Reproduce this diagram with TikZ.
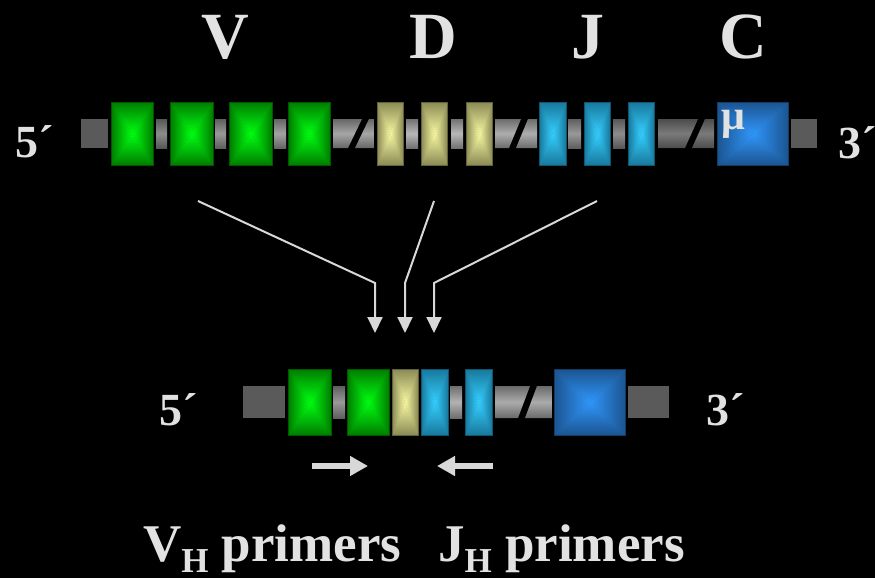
\documentclass[tikz,border=0pt]{standalone}
\usepackage{fontspec}
\setmainfont{Liberation Serif}
\usetikzlibrary{arrows.meta}

\definecolor{txt}{HTML}{E2E2E2}
\definecolor{linkgray}{HTML}{D8D8D8}
\definecolor{endgray}{HTML}{5A5A5A}
\definecolor{vEdge}{HTML}{007C00}
\definecolor{vMid}{HTML}{00FF10}
\definecolor{dEdge}{HTML}{8A8A55}
\definecolor{dMid}{HTML}{F8F8A2}
\definecolor{jEdge}{HTML}{18789C}
\definecolor{jMid}{HTML}{35CFFF}
\definecolor{cEdge}{HTML}{1B5490}
\definecolor{cMid}{HTML}{3096FA}

% placeholder node covering a rectangle given by pixel corners
\newcommand{\segnode}[5]{%
  \node[inner sep=0pt, outer sep=0pt,
        minimum width={(#4-#2)*1pt}, minimum height={(#5-#3)*1pt}]
        (#1) at ({(#2+#4)/2},{(#3+#5)/2}) {};}

% bevelled gene segment: name, x1, y1, x2, y2, edge colour, centre colour
\newcommand{\exon}[7]{%
  \segnode{#1}{#2}{#3}{#4}{#5}
  \fill[#6] (#1.north west) rectangle (#1.south east);
  \shade[top color=#6, bottom color=#7]
    (#1.north west) -- (#1.north east) -- (#1.center) -- cycle;
  \shade[top color=#7, bottom color=#6]
    (#1.south west) -- (#1.south east) -- (#1.center) -- cycle;
  \shade[left color=#6, right color=#7]
    (#1.north west) -- (#1.south west) -- (#1.center) -- cycle;
  \shade[left color=#7, right color=#6]
    (#1.north east) -- (#1.south east) -- (#1.center) -- cycle;
  \draw[#6!70!black, line width=0.8pt] (#1.north west) rectangle (#1.south east);}

% short piece of tube between segments: name, x1, y1, x2, y2, colour
\newcommand{\tube}[6]{%
  \segnode{#1}{#2}{#3}{#4}{#5}
  \colorlet{tubemid}{#6}%
  \shade[top color=tubemid!62!black, bottom color=tubemid!62!black, middle color=tubemid]
    (#1.north west) rectangle (#1.south east);}

% flat end block: name, x1, y1, x2, y2
\newcommand{\flatblock}[5]{%
  \segnode{#1}{#2}{#3}{#4}{#5}
  \fill[endgray] (#1.north west) rectangle (#1.south east);}

% interrupted tube: name, x1, y1, x2, y2, left top, left bottom,
% right top, right bottom (colour from brkcol)
\newcommand{\brk}[9]{%
  \segnode{#1}{#2}{#3}{#4}{#5}
  \shade[top color=brkcol!62!black, bottom color=brkcol!62!black, middle color=brkcol]
    (#2,#3) -- (#6,#3) -- (#7,#5) -- (#2,#5) -- cycle;
  \shade[top color=brkcol!62!black, bottom color=brkcol!62!black, middle color=brkcol]
    (#8,#3) -- (#4,#3) -- (#4,#5) -- (#9,#5) -- cycle;}

\begin{document}
\begin{tikzpicture}[x=1pt, y=-1pt,
  label/.style={text=txt, font=\fontsize{66}{66}\selectfont\bfseries, inner sep=0pt, anchor=base},
  endlabel/.style={text=txt, font=\fontsize{46}{46}\selectfont\bfseries, inner sep=0pt, anchor=base west},
  primer/.style={text=txt, font=\fontsize{53}{53}\selectfont\bfseries, inner sep=0pt, anchor=base west},
  link/.style={draw=linkgray, line width=2pt, -{Triangle[width=15pt, length=16pt]}},
  primerarrow/.style={draw=linkgray, line width=5.5pt, -{Triangle[width=19pt, length=18pt]}}]

\useasboundingbox (0,0) rectangle (875,578);
\fill[black] (0,0) rectangle (875,578);

% ---------- germline locus ----------
\node[label] (lV) at (225,59) {V};
\node[label] (lD) at (433,59) {D};
\node[label] (lJ) at (588,59) {J};
\node[label] (lC) at (743,59) {C};

\node[endlabel] (g5) at (15,157) {5´};
\node[endlabel] (g3) at (838,158) {3´};

\flatblock{gEndL}{81}{119}{108}{148}
\exon{gV1}{111}{102}{153}{165}{vEdge}{vMid}
\tube{gT1}{156}{119}{167}{148}{black!45}
\exon{gV2}{170}{102}{213}{165}{vEdge}{vMid}
\tube{gT2}{215}{119}{226}{148}{black!40}
\exon{gV3}{229}{102}{272}{165}{vEdge}{vMid}
\tube{gT3}{274}{119}{286}{148}{black!36}
\exon{gV4}{288}{102}{330}{165}{vEdge}{vMid}
\colorlet{brkcol}{black!35}
\brk{gB1}{333}{119}{374}{148}{362}{348}{369}{355}
\exon{gD1}{377}{102}{403}{165}{dEdge}{dMid}
\tube{gT4}{406}{119}{418}{148}{black!28}
\exon{gD2}{421}{102}{447}{165}{dEdge}{dMid}
\tube{gT5}{451}{119}{463}{148}{black!28}
\exon{gD3}{466}{102}{492}{165}{dEdge}{dMid}
\colorlet{brkcol}{black!32}
\brk{gB2}{495}{119}{537}{148}{521}{509}{528}{516}
\exon{gJ1}{539}{102}{566}{165}{jEdge}{jMid}
\tube{gT6}{568}{119}{581}{148}{black!40}
\exon{gJ2}{584}{102}{610}{165}{jEdge}{jMid}
\tube{gT7}{613}{119}{625}{148}{black!45}
\exon{gJ3}{628}{102}{654}{165}{jEdge}{jMid}
\colorlet{brkcol}{black!52}
\brk{gB3}{658}{119}{714}{148}{698}{685}{705}{692}
\exon{gC}{717}{102}{788}{165}{cEdge}{cMid}
\node[text=txt, font=\fontsize{42}{42}\selectfont\bfseries, inner sep=0pt, anchor=base west] (mu) at (721,129) {μ};
\flatblock{gEndR}{791}{119}{817}{148}

% ---------- joining ----------
\coordinate (vs) at (198,201);
\coordinate (vb) at (375,283);
\coordinate (vt) at (375,333);
\coordinate (ds) at (434,201);
\coordinate (db) at (405,283);
\coordinate (dt) at (405,333);
\coordinate (js) at (597,201);
\coordinate (jb) at (434,283);
\coordinate (jt) at (434,333);
\draw[link] (vs) -- (vb) -- (vt);
\draw[link] (ds) -- (db) -- (dt);
\draw[link] (js) -- (jb) -- (jt);

% ---------- rearranged locus ----------
\node[endlabel] (r5) at (159,425) {5´};
\node[endlabel] (r3) at (706,425) {3´};

\flatblock{rEndL}{243}{386}{285}{418}
\exon{rV1}{288}{369}{331}{435}{vEdge}{vMid}
\tube{rT1}{333}{386}{345}{418}{black!40}
\exon{rV2}{347}{369}{389}{435}{vEdge}{vMid}
\exon{rD}{392}{369}{418}{435}{dEdge}{dMid}
\exon{rJ1}{421}{369}{448}{435}{jEdge}{jMid}
\tube{rT2}{450}{386}{462}{418}{black!30}
\exon{rJ2}{465}{369}{492}{435}{jEdge}{jMid}
\colorlet{brkcol}{black!33}
\brk{rB}{495}{386}{552}{418}{530}{518}{537}{525}
\exon{rC}{554}{369}{625}{435}{cEdge}{cMid}
\flatblock{rEndR}{628}{386}{669}{418}

% ---------- primers ----------
\coordinate (pv1) at (312,466);
\coordinate (pv2) at (368,466);
\coordinate (pj1) at (493,466);
\coordinate (pj2) at (437,466);
\draw[primerarrow] (pv1) -- (pv2);
\draw[primerarrow] (pj1) -- (pj2);

\node[primer] (vp) at (143,561)
  {V\raisebox{-11pt}{\fontsize{35}{35}\selectfont H} primers};
\node[primer] (jp) at (438,561)
  {J\raisebox{-11pt}{\fontsize{35}{35}\selectfont H} primers};
\end{tikzpicture}
\end{document}
